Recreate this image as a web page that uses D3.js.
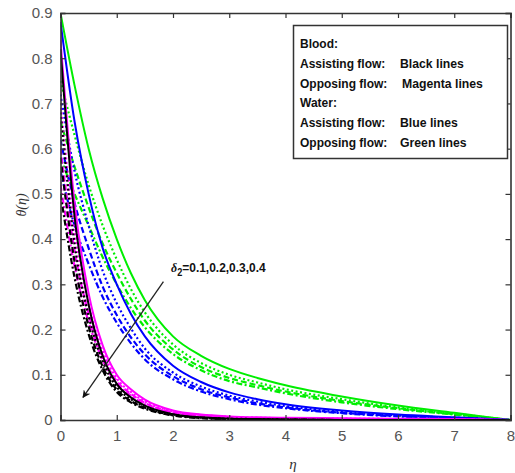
<!DOCTYPE html>
<html><head><meta charset="utf-8">
<script src="https://cdn.jsdelivr.net/npm/d3@7"></script>
<style>
body{margin:0;background:#fff;}
svg{display:block;}
</style></head>
<body>
<svg id="chart" width="515" height="473"></svg>
<script>
// ---- data ----
const eta = [0, 0.25, 0.5, 0.75, 1, 1.25, 1.5, 2, 2.5, 3, 3.5, 4, 5, 6, 7, 8];
const deltaValues = [0.1, 0.2, 0.3, 0.4];
// Water, opposing flow (green)
const greenD1 = [0.90, 0.74, 0.60, 0.49, 0.40, 0.325, 0.265, 0.185, 0.142, 0.113, 0.093, 0.077, 0.052, 0.032, 0.016, 0];
const greenD2 = [0.75, 0.63, 0.52, 0.43, 0.355, 0.29, 0.238, 0.167, 0.126, 0.10, 0.083, 0.068, 0.046, 0.028, 0.014, 0];
const greenD3 = [0.66, 0.56, 0.47, 0.39, 0.325, 0.268, 0.22, 0.156, 0.117, 0.093, 0.077, 0.063, 0.042, 0.026, 0.013, 0];
const greenD4 = [0.58, 0.50, 0.43, 0.36, 0.30, 0.248, 0.205, 0.146, 0.11, 0.086, 0.072, 0.059, 0.039, 0.024, 0.012, 0];
// Water, assisting flow (blue)
const blueD1 = [0.88, 0.66, 0.50, 0.38, 0.30, 0.235, 0.185, 0.12, 0.084, 0.061, 0.046, 0.035, 0.021, 0.012, 0.006, 0];
const blueD2 = [0.72, 0.55, 0.43, 0.33, 0.258, 0.203, 0.158, 0.105, 0.074, 0.054, 0.041, 0.031, 0.018, 0.010, 0.005, 0];
const blueD3 = [0.62, 0.48, 0.38, 0.295, 0.232, 0.183, 0.145, 0.097, 0.068, 0.05, 0.037, 0.028, 0.016, 0.009, 0.004, 0];
const blueD4 = [0.55, 0.43, 0.345, 0.272, 0.215, 0.17, 0.134, 0.09, 0.063, 0.046, 0.034, 0.026, 0.015, 0.008, 0.004, 0];
// Blood, opposing flow (magenta)
const magentaD1 = [0.84, 0.48, 0.28, 0.165, 0.10, 0.068, 0.045, 0.021, 0.012, 0.008, 0.006, 0.005, 0.004, 0.003, 0.002, 0];
const magentaD2 = [0.70, 0.42, 0.255, 0.152, 0.092, 0.062, 0.041, 0.019, 0.011, 0.007, 0.005, 0.004, 0.003, 0.002, 0.001, 0];
const magentaD3 = [0.60, 0.375, 0.235, 0.142, 0.086, 0.058, 0.038, 0.017, 0.010, 0.006, 0.004, 0.003, 0.002, 0.001, 0.001, 0];
const magentaD4 = [0.52, 0.34, 0.217, 0.133, 0.080, 0.054, 0.035, 0.016, 0.009, 0.005, 0.003, 0.002, 0.001, 0.001, 0, 0];
// Blood, assisting flow (black)
const blackD1 = [0.82, 0.45, 0.255, 0.142, 0.080, 0.050, 0.032, 0.013, 0.006, 0.003, 0.002, 0.001, 0, 0, 0, 0];
const blackD2 = [0.68, 0.39, 0.23, 0.13, 0.073, 0.046, 0.029, 0.012, 0.005, 0.003, 0.002, 0.001, 0, 0, 0, 0];
const blackD3 = [0.58, 0.35, 0.207, 0.118, 0.067, 0.042, 0.027, 0.011, 0.005, 0.002, 0.001, 0.001, 0, 0, 0, 0];
const blackD4 = [0.50, 0.315, 0.19, 0.11, 0.062, 0.039, 0.025, 0.010, 0.004, 0.002, 0.001, 0, 0, 0, 0, 0];

const xTicks = [0, 1, 2, 3, 4, 5, 6, 7, 8];
const yTicks = [0, 0.1, 0.2, 0.3, 0.4, 0.5, 0.6, 0.7, 0.8, 0.9];
const legendLines = [
  ["Blood:", ""],
  ["Assisting flow:", "Black lines"],
  ["Opposing flow:", "Magenta lines"],
  ["Water:", ""],
  ["Assisting flow:", "Blue lines"],
  ["Opposing flow:", "Green lines"]
];
const groups = [
  {color: "#00ee00", series: [greenD1, greenD2, greenD3, greenD4]},
  {color: "#0000ff", series: [blueD1, blueD2, blueD3, blueD4]},
  {color: "#ff00ff", series: [magentaD1, magentaD2, magentaD3, magentaD4]},
  {color: "#000000", series: [blackD1, blackD2, blackD3, blackD4]}
];
const dashes = [null, "2,2.5", "6,3", "6,2.5,2,2.5"];
// arrow annotation (data coordinates)
const arrowFrom = [1.83, 0.306];
const arrowTo = [0.40, 0.05];

// ---- drawing ----
const svg = d3.select("#chart");
const x = d3.scaleLinear().domain([0, 8]).range([60.5, 510.5]);
const y = d3.scaleLinear().domain([0, 0.9]).range([420, 13]);
const axisColor = "#333";
const tickFont = "'Liberation Sans',Arial,sans-serif";
const legFont = "'Liberation Sans',Arial,sans-serif";

const defs = svg.append("defs");
defs.append("clipPath").attr("id", "clip").append("rect")
  .attr("x", x(0)).attr("y", y(0.9)).attr("width", x(8) - x(0)).attr("height", y(0) - y(0.9));
defs.append("marker").attr("id", "ah").attr("viewBox", "0 0 10 10")
  .attr("refX", 9).attr("refY", 5).attr("markerWidth", 6).attr("markerHeight", 6)
  .attr("markerUnits", "strokeWidth").attr("orient", "auto")
  .append("path").attr("d", "M0,0 L10,5 L0,10 L3,5 Z").attr("fill", "#111");

const line = d3.line().x(d => x(d[0])).y(d => y(d[1])).curve(d3.curveMonotoneX);
const plot = svg.append("g").attr("clip-path", "url(#clip)");
groups.forEach(g => {
  g.series.forEach((s, i) => {
    plot.append("path")
      .datum(eta.map((e, k) => [e, s[k]]))
      .attr("d", line)
      .attr("fill", "none")
      .attr("stroke", g.color)
      .attr("stroke-width", i === 0 ? 2 : 2.2)
      .attr("stroke-dasharray", dashes[i]);
  });
});

// axes (box with inward ticks)
const axB = svg.append("g").attr("transform", `translate(0,${y(0)})`)
  .call(d3.axisBottom(x).tickValues(xTicks).tickSize(-5).tickPadding(10).tickFormat(d3.format("d")));
const axL = svg.append("g").attr("transform", `translate(${x(0)},0)`)
  .call(d3.axisLeft(y).tickValues(yTicks).tickSize(-5).tickPadding(8).tickFormat(d => d === 0 ? "0" : d3.format(".1f")(d)));
const axT = svg.append("g").attr("transform", `translate(0,${y(0.9)})`)
  .call(d3.axisTop(x).tickValues(xTicks).tickSize(-5).tickFormat(""));
const axR = svg.append("g").attr("transform", `translate(${x(8)},0)`)
  .call(d3.axisRight(y).tickValues(yTicks).tickSize(-5).tickFormat(""));
[axB, axL, axT, axR].forEach(a => {
  a.selectAll(".domain").attr("stroke", axisColor).attr("stroke-width", 1.6);
  a.selectAll(".tick line").attr("stroke", axisColor).attr("stroke-width", 1.2);
  a.selectAll("text").attr("fill", "#555").attr("font-size", 15).attr("font-family", tickFont);
});

// axis labels
svg.append("text").attr("x", 293).attr("y", 469).attr("text-anchor", "middle")
  .attr("font-family", "'Liberation Serif','Times New Roman',serif").attr("font-style", "italic")
  .attr("font-size", 15).attr("fill", "#333").text("η");
svg.append("text").attr("transform", "translate(26,205) rotate(-90)").attr("text-anchor", "middle")
  .attr("font-family", "'Liberation Serif','Times New Roman',serif").attr("font-style", "italic")
  .attr("font-size", 14).attr("fill", "#333").text("θ(η)");

// arrow annotation
svg.append("line")
  .attr("x1", x(arrowFrom[0])).attr("y1", y(arrowFrom[1]))
  .attr("x2", x(arrowTo[0])).attr("y2", y(arrowTo[1]))
  .attr("stroke", "#222").attr("stroke-width", 1.3).attr("marker-end", "url(#ah)");
const ann = svg.append("text").attr("transform", "translate(171,272) scale(0.92,1)")
  .attr("font-family", legFont)
  .attr("font-weight", "bold").attr("font-size", 13).attr("fill", "#111");
ann.append("tspan").attr("font-style", "italic").attr("font-family", "'Liberation Serif',serif").text("δ");
ann.append("tspan").attr("dy", 4).attr("font-size", 10).text("2");
ann.append("tspan").attr("dy", -4).text("=" + deltaValues.join(","));

// legend
const lg = svg.append("g");
lg.append("rect").attr("x", 293.5).attr("y", 25.5).attr("width", 214).attr("height", 133)
  .attr("fill", "#fff").attr("stroke", "#333").attr("stroke-width", 1.5);
legendLines.forEach((l, i) => {
  const yy = 48 + i * 19.8;
  lg.append("text").attr("transform", `translate(300,${yy}) scale(0.96,1)`)
    .attr("font-family", legFont)
    .attr("font-weight", "bold").attr("font-size", 12.5).attr("fill", "#111").text(l[0]);
  if (l[1]) lg.append("text").attr("transform", `translate(${i === 2 ? 402 : 400},${yy}) scale(0.98,1)`)
    .attr("font-family", legFont)
    .attr("font-weight", "bold").attr("font-size", 12.5).attr("fill", "#111").text(l[1]);
});
</script>
</body></html>
